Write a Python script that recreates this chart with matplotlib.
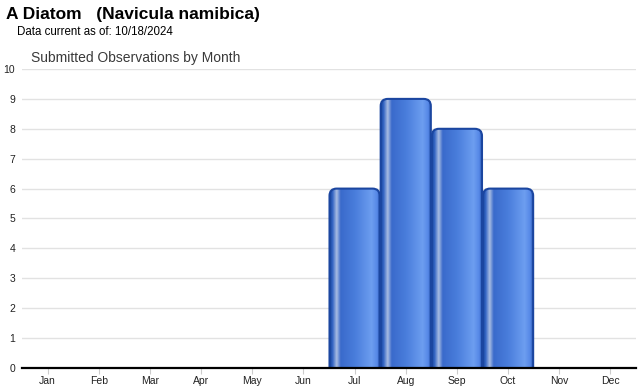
import numpy as np
import matplotlib
matplotlib.use("Agg")
import matplotlib.pyplot as plt
from matplotlib.patches import FancyBboxPatch
from matplotlib.colors import LinearSegmentedColormap

months = ["Jan", "Feb", "Mar", "Apr", "May", "Jun",
          "Jul", "Aug", "Sep", "Oct", "Nov", "Dec"]
counts = [0, 0, 0, 0, 0, 0, 6, 9, 8, 6, 0, 0]
yticks = list(range(0, 11))

plt.rcParams['font.family'] = ['Liberation Sans', 'DejaVu Sans']

fig = plt.figure(figsize=(6.4, 3.9), dpi=100)
ax = fig.add_axes([22/640, 1-368/390, 614/640, (368-69)/390])

# bar shading, left to right
grad = LinearSegmentedColormap.from_list("bar", [
    (0.0, "#1a48a0"), (0.05, "#3465c4"), (0.13, "#a9bde2"),
    (0.21, "#3a6acb"), (0.5, "#4a7edc"), (0.82, "#6d9ef0"),
    (0.93, "#5587e6"), (1.0, "#1a48a0")])
g = np.linspace(0, 1, 256).reshape(1, -1)

width = 0.98
for i, v in enumerate(counts):
    if v <= 0:
        continue
    x0 = i - width/2
    patch = FancyBboxPatch((x0, -1), width, v + 1,
                           boxstyle="round,pad=0,rounding_size=0.14",
                           mutation_aspect=1.71,
                           facecolor="none", edgecolor="#1b46a0",
                           linewidth=1.5, zorder=3)
    ax.add_patch(patch)
    im = ax.imshow(g, cmap=grad, aspect="auto", extent=(x0, x0 + width, -1, v),
                   zorder=2, interpolation="bilinear")
    im.set_clip_path(patch)

ax.set_xlim(-0.5, 11.5)
ax.set_ylim(0, 10)
ax.set_yticks(yticks)
ax.set_xticks(range(12))
ax.set_xticklabels(months)
ax.tick_params(axis="y", length=0, labelsize=7.5, pad=5, labelcolor="#222222")
ax.tick_params(axis="x", length=4, color="#cccccc", labelsize=7.5, pad=2,
               labelcolor="#222222")
ax.yaxis.grid(True, color="#e2e2e2", linewidth=1)
ax.set_axisbelow(True)
for s in ["top", "right", "left"]:
    ax.spines[s].set_visible(False)
ax.spines["bottom"].set_color("black")
ax.spines["bottom"].set_linewidth(1.6)
ax.spines["bottom"].set_zorder(4)

fig.text(6/640, 1-15/390, "A Diatom   (Navicula namibica)", fontsize=12.5,
         fontweight="bold", va="center", ha="left")
fig.text(17/640, 1-32/390, "Data current as of: 10/18/2024", fontsize=8.3,
         va="center", ha="left")
fig.text(31/640, 1-58/390, "Submitted Observations by Month", fontsize=10,
         color="#3a3a3a", va="center", ha="left")

fig.savefig("out.png", dpi=100)
